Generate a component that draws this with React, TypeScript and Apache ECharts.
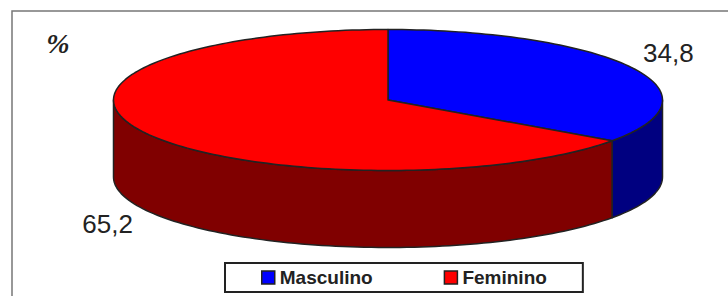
import React, { useEffect, useRef } from "react";
import * as echarts from "echarts";

const categories = ["Masculino", "Feminino"];
const values = [34.8, 65.2];
const valueLabels = ["34,8", "65,2"];
const topColors = ["#0000FF", "#FF0000"];
const sideColors = ["#000080", "#800000"];
const unitLabel = "%";

const CX = 388;
const CY = 100;
const RX = 274.5;
const RY = 70.5;
const DEPTH = 77;
const STROKE = "#222222";

const total = values.reduce((a, b) => a + b, 0);
const starts: number[] = [];
{
  let acc = 0;
  values.forEach((v) => {
    starts.push((acc / total) * 360);
    acc += v;
  });
}

const rad = (d: number) => (d * Math.PI) / 180;
const pt = (deg: number, dy = 0): [number, number] => [
  CX + RX * Math.sin(rad(deg)),
  CY - RY * Math.cos(rad(deg)) + dy,
];
const arc = (a0: number, a1: number, dy = 0) => {
  const n = Math.max(2, Math.ceil(Math.abs(a1 - a0) / 1.5));
  const out: [number, number][] = [];
  for (let k = 0; k <= n; k++) out.push(pt(a0 + ((a1 - a0) * k) / n, dy));
  return out;
};

export default function App() {
  const ref = useRef<HTMLDivElement>(null);
  useEffect(() => {
    document.body.style.margin = "0";
    if (!ref.current) return;
    const chart = echarts.init(ref.current, null, { renderer: "svg" });
    const series = categories.map((name, i) => ({
      type: "custom",
      name,
      coordinateSystem: "none",
      data: [values[i]],
      itemStyle: { color: topColors[i] },
      renderItem: (params: any, api: any) => {
        const v = api.value(0);
        const a0 = starts[i];
        const a1 = a0 + (v / total) * 360;
        const children: any[] = [];
        const s0 = Math.max(a0, 90);
        const s1 = Math.min(a1, 270);
        if (s0 < s1) {
          const top = arc(s0, s1);
          const bot = arc(s1, s0, DEPTH);
          children.push({
            type: "polygon",
            shape: { points: [...top, ...bot] },
            style: { fill: sideColors[i], stroke: STROKE, lineWidth: 1.5, lineJoin: "round" },
          });
        }
        children.push({
          type: "polygon",
          shape: { points: [[CX, CY], ...arc(a0, a1)] },
          style: { fill: topColors[i], stroke: STROKE, lineWidth: 1.5, lineJoin: "round" },
        });
        const mid = (a0 + a1) / 2;
        const c = Math.cos(rad(mid));
        const lx = CX + 1.15 * RX * Math.sin(rad(mid));
        const ly = CY - 1.45 * RY * c + (c < 0 ? DEPTH : 0);
        children.push({
          type: "text",
          style: {
            text: valueLabels[i],
            x: lx,
            y: ly,
            align: "center",
            verticalAlign: "middle",
            fontSize: 26,
            fontFamily: "Liberation Sans",
            fill: "#222222",
          },
        });
        return { type: "group", children };
      },
    }));
    chart.setOption({
      animation: false,
      backgroundColor: "#ffffff",
      graphic: [
        {
          type: "rect",
          shape: { x: 12, y: 11, width: 740, height: 300 },
          style: { fill: "none", stroke: "#777777", lineWidth: 1.5 },
        },
        {
          type: "text",
          style: {
            text: unitLabel,
            x: 58,
            y: 43,
            align: "center",
            verticalAlign: "middle",
            fontSize: 28,
            fontStyle: "italic",
            fontWeight: "bold",
            fontFamily: "Liberation Serif",
            fill: "#222222",
          },
        },
      ],
      legend: {
        data: categories,
        left: 225,
        top: 263,
        icon: "rect",
        itemWidth: 13,
        itemHeight: 13,
        itemGap: 71,
        padding: [5, 36],
        backgroundColor: "#ffffff",
        borderColor: "#222222",
        borderWidth: 2,
        borderRadius: 0,
        itemStyle: { borderColor: "#222222", borderWidth: 1.5 },
        textStyle: {
          fontSize: 19,
          fontWeight: "bold",
          fontFamily: "Liberation Sans",
          color: "#222222",
        },
      },
      series,
    });
    return () => chart.dispose();
  }, []);
  return <div ref={ref} style={{ width: 728, height: 296 }} />;
}
